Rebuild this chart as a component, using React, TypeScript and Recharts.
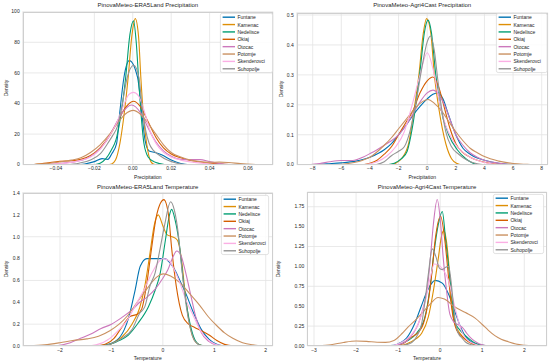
import React from 'react';
import { LineChart, Line, XAxis, YAxis, CartesianGrid } from 'recharts';

type Pt = [number, number];

const stations = ['Funtane', 'Kamenac', 'Nedelisce', 'Okiaj', 'Otocac', 'Potomje', 'Skenderovci', 'Suhopolje'];
const colors = ['#0173b2', '#de8f05', '#029e73', '#d55e00', '#cc78bc', '#ca9161', '#fbafe4', '#949494'];

// density curves, one list of [x, density] per station (same order as stations)
const era5PrecipCurves: Pt[][] = [
  [[-0.03, 0], [-0.025, 0.5], [-0.02, 2], [-0.016, 4], [-0.013, 3.5], [-0.011, 7], [-0.0084, 14], [-0.0067, 35], [-0.0046, 57], [-0.0018, 68], [0.0025, 57], [0.0046, 35], [0.0064, 16], [0.0085, 9], [0.0115, 8], [0.015, 6.5], [0.02, 3], [0.025, 0.8], [0.03, 0]],
  [[-0.014, 0], [-0.011, 0.5], [-0.009, 3], [-0.0067, 14], [-0.0045, 33], [-0.0024, 57], [-0.0005, 84], [0.0013, 95.5], [0.003, 84], [0.0042, 57], [0.0055, 33], [0.0072, 14], [0.0094, 2], [0.011, 0.3], [0.013, 0]],
  [[-0.02, 0], [-0.017, 1], [-0.014, 4], [-0.011, 10], [-0.0088, 16], [-0.0065, 30], [-0.0037, 57], [-0.0015, 85], [0.0004, 94], [0.0018, 80], [0.003, 57], [0.0042, 35], [0.0058, 14], [0.008, 5], [0.011, 2], [0.014, 0.7], [0.017, 0]],
  [[-0.052, 0], [-0.045, 1], [-0.038, 2.3], [-0.032, 2.6], [-0.027, 3.5], [-0.022, 6], [-0.017, 11], [-0.012, 19], [-0.008, 28], [-0.004, 37], [0.0003, 41.5], [0.004, 38], [0.008, 28], [0.012, 18], [0.016, 11], [0.02, 7], [0.025, 4.5], [0.03, 2.8], [0.035, 1.8], [0.04, 1], [0.048, 0.3], [0.055, 0]],
  [[-0.045, 0], [-0.038, 0.8], [-0.03, 2], [-0.024, 4], [-0.019, 8], [-0.014, 15], [-0.01, 24], [-0.006, 33], [-0.0006, 39], [0.004, 34], [0.008, 24], [0.012, 15], [0.016, 9], [0.02, 5.5], [0.025, 3.5], [0.03, 3.3], [0.035, 3.3], [0.04, 2], [0.045, 0.8], [0.052, 0]],
  [[-0.053, 0], [-0.045, 0.7], [-0.038, 1.8], [-0.032, 3], [-0.027, 4.5], [-0.022, 8], [-0.017, 13], [-0.012, 20], [-0.008, 27], [-0.004, 33], [0.0003, 35.5], [0.004, 33], [0.008, 27], [0.012, 20], [0.016, 13], [0.02, 8], [0.025, 5], [0.03, 3], [0.035, 2], [0.04, 1.6], [0.045, 1.7], [0.05, 1.4], [0.056, 0.7], [0.062, 0.2], [0.067, 0]],
  [[-0.045, 0], [-0.035, 1], [-0.028, 2.5], [-0.022, 5], [-0.017, 10], [-0.013, 17], [-0.0085, 27], [-0.005, 38], [-0.002, 46], [0.0004, 47.3], [0.003, 45], [0.006, 35], [0.009, 22], [0.012, 14], [0.016, 8], [0.02, 5], [0.025, 3], [0.032, 1.5], [0.04, 0.5], [0.05, 0]],
  [[-0.035, 0], [-0.028, 1], [-0.022, 3], [-0.017, 7], [-0.013, 14], [-0.0105, 19], [-0.008, 25], [-0.006, 36], [-0.0029, 57], [0.0005, 65], [0.0032, 57], [0.005, 36], [0.0068, 22], [0.0085, 14], [0.011, 9], [0.014, 6], [0.018, 3], [0.023, 1], [0.03, 0]],
];

const agriPrecipCurves: Pt[][] = [
  [[-8, 0], [-7, 0.003], [-6, 0.006], [-5, 0.012], [-4, 0.025], [-3, 0.05], [-2.5, 0.07], [-2, 0.1], [-1.5, 0.13], [-1, 0.165], [-0.5, 0.195], [0, 0.22], [0.4, 0.235], [0.75, 0.24], [1.1, 0.22], [1.5, 0.165], [2, 0.1], [2.5, 0.055], [3, 0.035], [3.5, 0.022], [4, 0.015], [5, 0.005], [6, 0]],
  [[-2.6, 0], [-2.2, 0.005], [-1.8, 0.02], [-1.3, 0.07], [-0.93, 0.18], [-0.58, 0.3], [-0.3, 0.43], [-0.04, 0.488], [0.25, 0.44], [0.5, 0.3], [0.84, 0.18], [1.3, 0.07], [1.7, 0.02], [2.1, 0.004], [2.4, 0]],
  [[-2.8, 0], [-2.3, 0.005], [-1.8, 0.02], [-1.4, 0.045], [-1.05, 0.12], [-0.74, 0.22], [-0.46, 0.33], [-0.2, 0.44], [0.06, 0.483], [0.3, 0.44], [0.6, 0.3], [0.9, 0.2], [1.5, 0.1], [2.1, 0.05], [2.7, 0.02], [3.1, 0.007], [3.5, 0]],
  [[-4.5, 0], [-4, 0.005], [-3.5, 0.015], [-3, 0.035], [-2.5, 0.06], [-2, 0.1], [-1.5, 0.14], [-1, 0.18], [-0.5, 0.24], [0, 0.28], [0.4, 0.293], [0.8, 0.26], [1.2, 0.19], [1.6, 0.12], [2, 0.07], [2.5, 0.04], [3, 0.025], [3.5, 0.015], [4, 0.008], [4.8, 0.002], [5.5, 0]],
  [[-8.4, 0], [-7.5, 0.004], [-6.8, 0.01], [-6, 0.014], [-5.2, 0.014], [-4.5, 0.025], [-4, 0.037], [-3.5, 0.05], [-3, 0.065], [-2.5, 0.08], [-2, 0.1], [-1.5, 0.13], [-1, 0.17], [-0.5, 0.21], [0, 0.24], [0.4, 0.249], [0.8, 0.235], [1.2, 0.2], [1.6, 0.15], [2, 0.1], [2.5, 0.065], [3, 0.04], [3.5, 0.025], [4, 0.015], [5, 0.005], [6, 0]],
  [[-6.5, 0], [-5.5, 0.004], [-4.5, 0.015], [-4, 0.025], [-3, 0.065], [-2.5, 0.09], [-2, 0.12], [-1.5, 0.15], [-1, 0.18], [-0.5, 0.205], [0.06, 0.218], [0.5, 0.205], [1, 0.18], [1.5, 0.145], [2, 0.11], [2.5, 0.08], [3, 0.055], [3.5, 0.04], [4, 0.027], [5, 0.012], [6, 0.004], [7, 0.001], [7.4, 0]],
  [[-4.5, 0], [-3.5, 0.01], [-2.8, 0.03], [-2.2, 0.06], [-1.6, 0.11], [-1.05, 0.2], [-0.5, 0.3], [0, 0.374], [0.5, 0.3], [0.9, 0.2], [1.3, 0.13], [1.8, 0.08], [2.4, 0.045], [3, 0.025], [3.8, 0.01], [4.6, 0.002], [5, 0]],
  [[-3.6, 0], [-3, 0.01], [-2.5, 0.03], [-2, 0.045], [-1.6, 0.06], [-1.16, 0.12], [-0.74, 0.22], [-0.35, 0.33], [0, 0.41], [0.23, 0.43], [0.5, 0.38], [0.75, 0.28], [1, 0.19], [1.3, 0.11], [1.7, 0.06], [2.2, 0.035], [2.8, 0.015], [3.5, 0.003], [4, 0]],
];

const era5TempCurves: Pt[][] = [
  [[-1.3, 0], [-1.1, 0.01], [-0.9, 0.05], [-0.75, 0.15], [-0.67, 0.25], [-0.54, 0.51], [-0.44, 0.73], [-0.31, 0.8], [-0.1, 0.8], [0.04, 0.8], [0.14, 0.76], [0.24, 0.69], [0.33, 0.6], [0.43, 0.5], [0.6, 0.3], [0.75, 0.15], [0.9, 0.06], [1.05, 0.015], [1.2, 0]],
  [[-1.2, 0], [-1, 0.02], [-0.8, 0.08], [-0.6, 0.2], [-0.45, 0.35], [-0.35, 0.55], [-0.25, 0.85], [-0.17, 1.1], [-0.09, 1.2], [0, 1.1], [0.08, 1.02], [0.18, 1.0], [0.28, 0.97], [0.36, 0.8], [0.43, 0.5], [0.5, 0.25], [0.57, 0.1], [0.65, 0.03], [0.75, 0.005], [0.85, 0]],
  [[-1.2, 0], [-1, 0.02], [-0.85, 0.05], [-0.67, 0.1], [-0.48, 0.21], [-0.28, 0.36], [-0.15, 0.51], [-0.05, 0.67], [0.05, 0.97], [0.12, 1.18], [0.17, 1.25], [0.24, 1.15], [0.31, 0.97], [0.42, 0.51], [0.53, 0.2], [0.63, 0.05], [0.72, 0.01], [0.85, 0]],
  [[-1.3, 0], [-1.1, 0.02], [-0.95, 0.07], [-0.8, 0.17], [-0.64, 0.27], [-0.5, 0.29], [-0.41, 0.34], [-0.31, 0.58], [-0.22, 0.89], [-0.12, 1.2], [0.02, 1.34], [0.11, 1.2], [0.17, 0.9], [0.26, 0.55], [0.38, 0.28], [0.5, 0.2], [0.62, 0.17], [0.75, 0.14], [0.9, 0.1], [1.05, 0.05], [1.2, 0.015], [1.4, 0]],
  [[-2.1, 0], [-1.8, 0.03], [-1.6, 0.07], [-1.4, 0.11], [-1.2, 0.16], [-1, 0.2], [-0.8, 0.26], [-0.6, 0.33], [-0.45, 0.4], [-0.3, 0.45], [-0.15, 0.52], [0, 0.62], [0.1, 0.7], [0.2, 0.82], [0.27, 0.87], [0.35, 0.83], [0.43, 0.7], [0.55, 0.45], [0.65, 0.25], [0.75, 0.12], [0.9, 0.04], [1.1, 0]],
  [[-2.6, 0], [-2.3, 0.01], [-2, 0.03], [-1.75, 0.05], [-1.48, 0.065], [-1.25, 0.09], [-1.03, 0.14], [-0.85, 0.2], [-0.7, 0.27], [-0.5, 0.4], [-0.3, 0.53], [-0.12, 0.63], [0.01, 0.66], [0.15, 0.64], [0.33, 0.58], [0.52, 0.48], [0.72, 0.37], [0.88, 0.27], [1.04, 0.19], [1.2, 0.12], [1.36, 0.07], [1.55, 0.03], [1.75, 0.01], [1.95, 0]],
  [[-1.5, 0], [-1.3, 0.01], [-1.03, 0.07], [-0.85, 0.15], [-0.7, 0.23], [-0.5, 0.4], [-0.38, 0.5], [-0.2, 0.68], [0, 0.8], [0.12, 0.78], [0.22, 0.7], [0.33, 0.58], [0.45, 0.42], [0.59, 0.28], [0.72, 0.15], [0.85, 0.07], [1, 0.02], [1.2, 0]],
  [[-1.2, 0], [-1, 0.02], [-0.8, 0.07], [-0.6, 0.15], [-0.45, 0.3], [-0.35, 0.36], [-0.25, 0.55], [-0.15, 0.67], [-0.05, 0.9], [0.04, 1.12], [0.15, 1.32], [0.22, 1.25], [0.28, 1.1], [0.38, 0.66], [0.46, 0.35], [0.53, 0.17], [0.63, 0.04], [0.75, 0.005], [0.85, 0]],
];

const agriTempCurves: Pt[][] = [
  [[-1.3, 0], [-1.1, 0.008], [-0.95, 0.04], [-0.8, 0.1], [-0.6, 0.29], [-0.45, 0.5], [-0.3, 0.7], [-0.12, 0.825], [0.05, 0.79], [0.2, 0.65], [0.35, 0.43], [0.5, 0.22], [0.6, 0.12], [0.75, 0.05], [0.9, 0.02], [1.1, 0.003], [1.3, 0]],
  [[-1.1, 0], [-0.9, 0.01], [-0.7, 0.05], [-0.55, 0.1], [-0.44, 0.16], [-0.28, 0.37], [-0.16, 0.7], [-0.04, 1.12], [0.02, 1.35], [0.08, 1.45], [0.14, 1.35], [0.19, 1.12], [0.25, 0.7], [0.31, 0.37], [0.38, 0.24], [0.47, 0.16], [0.6, 0.08], [0.75, 0.03], [0.9, 0.008], [1.05, 0]],
  [[-1.2, 0], [-1, 0.015], [-0.8, 0.06], [-0.56, 0.16], [-0.36, 0.37], [-0.25, 0.7], [-0.16, 1.12], [-0.04, 1.54], [0.05, 1.69], [0.13, 1.33], [0.22, 0.91], [0.28, 0.62], [0.35, 0.3], [0.47, 0.2], [0.6, 0.13], [0.71, 0.08], [0.85, 0.03], [1, 0.008], [1.15, 0]],
  [[-1.2, 0], [-1, 0.01], [-0.85, 0.04], [-0.72, 0.1], [-0.62, 0.13], [-0.52, 0.17], [-0.4, 0.28], [-0.28, 0.57], [-0.2, 0.91], [-0.12, 1.33], [0.01, 1.63], [0.11, 1.33], [0.19, 0.91], [0.27, 0.49], [0.39, 0.2], [0.5, 0.13], [0.63, 0.07], [0.8, 0.02], [1, 0]],
  [[-1.2, 0], [-1, 0.015], [-0.8, 0.06], [-0.64, 0.16], [-0.52, 0.28], [-0.4, 0.49], [-0.31, 0.7], [-0.23, 1.12], [-0.16, 1.54], [-0.07, 1.84], [0.01, 1.54], [0.07, 1.12], [0.15, 0.7], [0.23, 0.4], [0.33, 0.3], [0.45, 0.26], [0.55, 0.22], [0.63, 0.16], [0.75, 0.09], [0.87, 0.045], [1, 0.015], [1.2, 0]],
  [[-3.15, 0], [-2.9, 0.003], [-2.6, 0.015], [-2.3, 0.045], [-2, 0.063], [-1.75, 0.058], [-1.5, 0.048], [-1.3, 0.046], [-1.1, 0.07], [-0.9, 0.16], [-0.76, 0.24], [-0.6, 0.32], [-0.44, 0.41], [-0.25, 0.52], [-0.05, 0.61], [0.1, 0.59], [0.35, 0.49], [0.6, 0.42], [0.83, 0.35], [1, 0.27], [1.14, 0.2], [1.3, 0.13], [1.45, 0.085], [1.62, 0.054], [1.8, 0.025], [2.02, 0.008], [2.2, 0]],
  [[-1.3, 0], [-1.1, 0.01], [-0.9, 0.05], [-0.72, 0.12], [-0.52, 0.28], [-0.36, 0.55], [-0.24, 0.85], [-0.14, 1.03], [-0.05, 1.02], [0.08, 0.95], [0.2, 0.82], [0.3, 0.6], [0.4, 0.38], [0.5, 0.2], [0.6, 0.1], [0.75, 0.04], [0.9, 0.01], [1.05, 0]],
  [[-1.1, 0], [-0.9, 0.008], [-0.72, 0.03], [-0.56, 0.12], [-0.44, 0.28], [-0.36, 0.57], [-0.28, 0.91], [-0.19, 1.22], [-0.1, 1.12], [-0.02, 0.98], [0.05, 0.96], [0.13, 0.99], [0.2, 1.0], [0.25, 0.85], [0.3, 0.6], [0.35, 0.35], [0.43, 0.16], [0.52, 0.1], [0.6, 0.05], [0.75, 0.015], [0.9, 0]],
];

const era5PrecipXTicks = [-0.04, -0.02, 0, 0.02, 0.04, 0.06];
const era5PrecipYTicks = [0, 20, 40, 60, 80, 100];
const agriPrecipXTicks = [-8, -6, -4, -2, 0, 2, 4, 6, 8];
const agriPrecipYTicks = [0, 0.1, 0.2, 0.3, 0.4, 0.5];
const era5TempXTicks = [-2, -1, 0, 1, 2];
const era5TempYTicks = [0, 0.2, 0.4, 0.6, 0.8, 1.0, 1.2, 1.4];
const agriTempXTicks = [-3, -2, -1, 0, 1, 2];
const agriTempYTicks = [0, 0.25, 0.5, 0.75, 1.0, 1.25, 1.5, 1.75];

const FONT = '"Liberation Sans", Arial, sans-serif';
const TXT = '#262626';

const num = (d: number) => (v: number) => (v < 0 ? '\u2212' : '') + Math.abs(v).toFixed(d);

const panels = [
  {
    title: 'PinovaMeteo-ERA5Land Precipitation', xLabel: 'Precipitation', curves: era5PrecipCurves,
    x: 0, y: 0, plot: { l: 22.7, t: 11.7, r: 273, b: 164.7 },
    xDomain: [-0.0573, 0.073], yDomain: [0, 100], xTicks: era5PrecipXTicks, yTicks: era5PrecipYTicks,
    xFmt: num(2), yFmt: num(0), yLabelX: 6, legend: { l: 220, t: 12.7, w: 53 },
  },
  {
    title: 'PinovaMeteo-Agri4Cast Precipitation', xLabel: 'Precipitation', curves: agriPrecipCurves,
    x: 275, y: 0, plot: { l: 21.7, t: 12.7, r: 272.7, b: 164.7 },
    xDomain: [-9.118, 8.419], yDomain: [0, 0.5077], xTicks: agriPrecipXTicks, yTicks: agriPrecipYTicks,
    xFmt: num(0), yFmt: num(1), yLabelX: 6, legend: { l: 221, t: 13.3, w: 51.5 },
  },
  {
    title: 'PinovaMeteo-ERA5Land Temperature', xLabel: 'Temperature', curves: era5TempCurves,
    x: 0, y: 182, plot: { l: 22.7, t: 10.7, r: 272.7, b: 164 },
    xDomain: [-2.725, 2.136], yDomain: [0, 1.403], xTicks: era5TempXTicks, yTicks: era5TempYTicks,
    xFmt: num(0), yFmt: num(1), yLabelX: 6, legend: { l: 221, t: 12.7, w: 48 },
  },
  {
    title: 'PinovaMeteo-Agri4Cast Temperature', xLabel: 'Temperature', curves: agriTempCurves,
    x: 275, y: 182, plot: { l: 32.3, t: 10, r: 271.7, b: 164 },
    xDomain: [-3.159, 2.532], yDomain: [0, 1.935], xTicks: agriTempXTicks, yTicks: agriTempYTicks,
    xFmt: num(0), yFmt: num(2), yLabelX: 3, legend: { l: 218, t: 12.3, w: 51 },
  },
];

const W = 275;
const H = 182;
const ROW = 7.37;

function LegendBox({ l, t, w }: { l: number; t: number; w: number }) {
  const h = ROW * stations.length + 1;
  return (
    <svg width={w} height={h} style={{ position: 'absolute', left: l, top: t, overflow: 'visible' }}>
      <rect x={0.4} y={0.4} width={w - 0.8} height={h - 0.8} rx={1.8} fill="rgba(255,255,255,0.85)" stroke="#dadada" strokeWidth={0.8} />
      {stations.map((s, i) => {
        const cy = 0.5 + ROW * (i + 0.5);
        return (
          <g key={s}>
            <line x1={2.6} x2={15} y1={cy} y2={cy} stroke={colors[i]} strokeWidth={1.4} />
            <text x={17.4} y={cy} dominantBaseline="central" fontSize={5} fill={TXT} fontFamily={FONT}>{s}</text>
          </g>
        );
      })}
    </svg>
  );
}

function Panel({ p }: { p: (typeof panels)[number] }) {
  const { plot } = p;
  const cx = (plot.l + plot.r) / 2;
  const cy = (plot.t + plot.b) / 2;
  return (
    <div style={{ position: 'absolute', left: p.x, top: p.y, width: W, height: H }}>
      <LineChart width={W} height={H} margin={{ top: plot.t, right: W - plot.r, bottom: 0, left: 0 }}>
        <CartesianGrid stroke="#e3e3e3" strokeWidth={0.8} />
        <XAxis
          type="number" dataKey="x" domain={p.xDomain} ticks={p.xTicks} allowDataOverflow
          height={H - plot.b} axisLine={false} tickLine={false} tickSize={0} tickMargin={2}
          tickFormatter={p.xFmt} tick={{ fontSize: 5, fill: TXT, fontFamily: FONT }}
        />
        <YAxis
          type="number" domain={p.yDomain} ticks={p.yTicks} allowDataOverflow
          width={plot.l} axisLine={false} tickLine={false} tickSize={0} tickMargin={3}
          tickFormatter={p.yFmt} tick={{ fontSize: 5, fill: TXT, fontFamily: FONT }}
        />
        {p.curves.map((c, i) => (
          <Line
            key={stations[i]} name={stations[i]} data={c.map(([x, y]) => ({ x, y }))} dataKey="y"
            type="monotone" stroke={colors[i]} strokeWidth={1.1} dot={false} activeDot={false}
            isAnimationActive={false}
          />
        ))}
      </LineChart>
      {/* axes frame */}
      <div style={{ position: 'absolute', left: plot.l, top: plot.t, width: plot.r - plot.l, height: plot.b - plot.t, border: '0.8px solid #cfcfcf', boxSizing: 'border-box', pointerEvents: 'none' }} />
      <div style={{ position: 'absolute', left: cx - 100, width: 200, top: 2.2, textAlign: 'center', fontSize: 6, lineHeight: '7px', color: TXT, fontFamily: FONT }}>{p.title}</div>
      <div style={{ position: 'absolute', left: cx - 50, width: 100, top: plot.b + 9, textAlign: 'center', fontSize: 5, lineHeight: '6px', color: TXT, fontFamily: FONT }}>{p.xLabel}</div>
      <div style={{ position: 'absolute', left: p.yLabelX - 20, width: 40, top: cy - 3, textAlign: 'center', fontSize: 5, lineHeight: '6px', color: TXT, fontFamily: FONT, transform: 'rotate(-90deg)' }}>Density</div>
      <LegendBox {...p.legend} />
    </div>
  );
}

export default function App() {
  return (
    <div style={{ position: 'absolute', left: 0, top: 0, width: 550, height: 364, background: '#fff', overflow: 'hidden' }}>
      {panels.map((p) => (
        <Panel key={p.title} p={p} />
      ))}
    </div>
  );
}
